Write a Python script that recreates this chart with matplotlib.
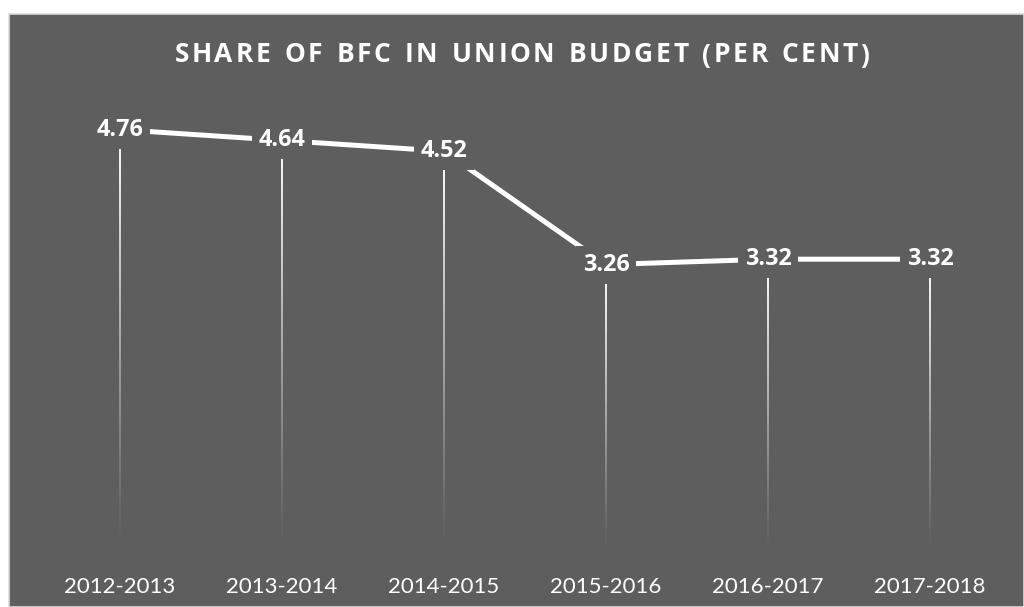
import matplotlib
matplotlib.use("Agg")
import matplotlib.pyplot as plt
import numpy as np
from matplotlib.patches import Rectangle

categories = ["2012-2013", "2013-2014", "2014-2015", "2015-2016", "2016-2017", "2017-2018"]
values = [4.76, 4.64, 4.52, 3.26, 3.32, 3.32]
title = "SHARE OF BFC IN UNION BUDGET (PER CENT)"

BG = "#5e5e5e"
W, H = 1024, 607
fig = plt.figure(figsize=(W / 100, H / 100), dpi=100)
fig.patch.set_facecolor("white")

bgrect = Rectangle((9 / W, 0), 1 - 9 / W, (H - 14) / H, transform=fig.transFigure,
                   facecolor=BG, edgecolor="#d9d9d9", linewidth=1.2, zorder=-5)
fig.add_artist(bgrect)

ax = fig.add_axes([39 / W, (H - 558) / H, (1011 - 39) / W, (558 - 18) / H])
ax.set_zorder(2)
ax.patch.set_alpha(0)
for s in ax.spines.values():
    s.set_visible(False)
x = np.arange(len(categories))
ax.set_yticks([])
ax.set_xticks(x)
ax.set_xticklabels(categories, color="white", fontsize=16, family="Lato")
ax.tick_params(axis="x", length=0, pad=14)

# drop lines with gradient fade (thin gradient images)
ppu_y = (558 - 18) / 6.0
ppu_x = (1011 - 39) / 6.0
half_w = 1.0 / ppu_x
grad = np.linspace(1, 0, 256)
alpha = np.clip((grad - 0.03) / 0.97, 0, 1) ** 1.1 * 0.95
img = np.ones((256, 1, 4))
img[:, 0, 3] = alpha
for xi, v in zip(x, values):
    top = v - 18 / ppu_y
    ax.imshow(img, extent=(xi - half_w, xi + half_w, 0, top), origin="upper",
              aspect="auto", interpolation="bilinear", zorder=2)
ax.set_xlim(-0.5, len(categories) - 0.5)
ax.set_ylim(0, 6)

# main line
ax.plot(x, values, color="white", linewidth=3.6, solid_capstyle="butt", zorder=3)

# data labels
for xi, v in zip(x, values):
    ax.text(xi, v, f"{v:.2f}", ha="center", va="center", color="white", fontsize=16.8,
            fontweight="bold", family="Open Sans", zorder=4,
            bbox=dict(facecolor=BG, edgecolor="none", boxstyle="square,pad=0.3"))

# title with letter spacing
fig.canvas.draw()
r = fig.canvas.get_renderer()
fs = 19
target = 695.0
widths = []
for ch in title:
    t = fig.text(0, 0, ch if ch != " " else "n", fontsize=fs, fontweight="bold", family="Open Sans", color="white")
    bb = t.get_window_extent(r)
    widths.append(bb.width * (0.5 if ch == " " else 1.0))
    t.remove()
spacing = (target - sum(widths)) / (len(title) - 1)
cx = 522
xpos = cx - target / 2
for ch, w in zip(title, widths):
    if ch != " ":
        fig.text(xpos / W, 1 - 55 / H, ch, fontsize=fs, fontweight="bold", family="Open Sans",
                 color="white", ha="left", va="center", zorder=3)
    xpos += w + spacing

fig.savefig("out.png", dpi=100, facecolor=fig.get_facecolor())
